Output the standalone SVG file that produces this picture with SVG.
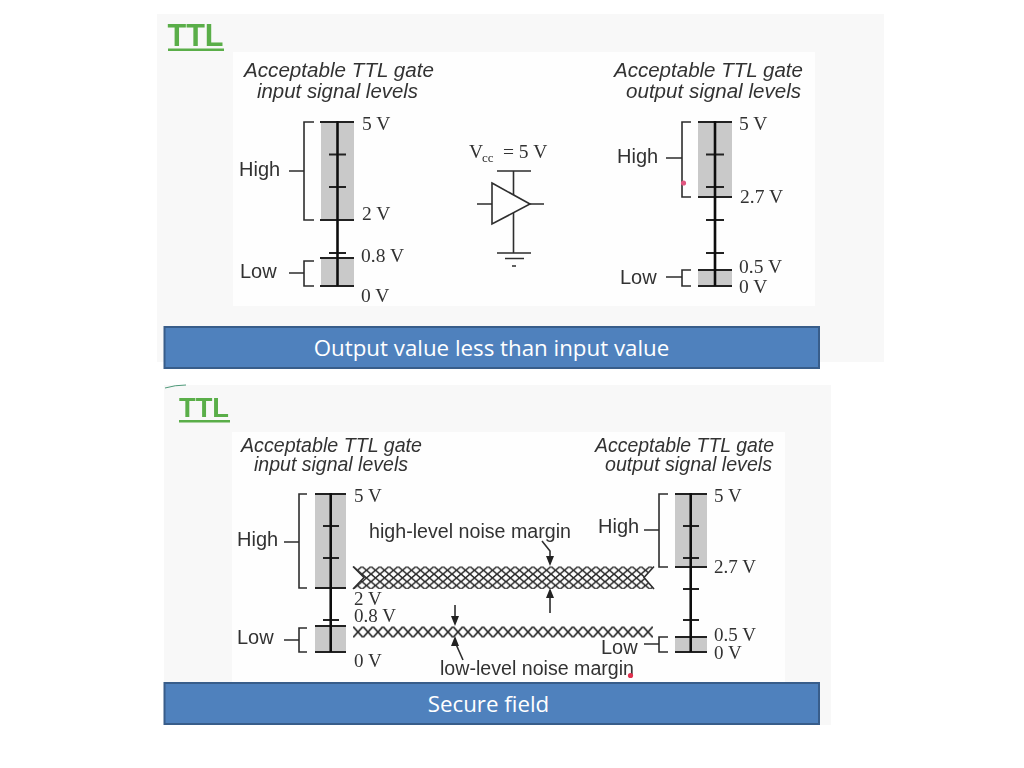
<svg xmlns="http://www.w3.org/2000/svg" width="1024" height="768" viewBox="0 0 1024 768">
<style>
.ttl{font-family:"Liberation Sans",Arial,sans-serif;font-weight:bold;fill:#5aae48}
.cap{font:italic 20px "Liberation Sans",Arial,sans-serif;fill:#333}
.lbl{font:20px "Liberation Sans",Arial,sans-serif;fill:#333}
.val{font-family:"Liberation Serif","Times New Roman",serif;font-size:19.5px;fill:#333}
.val2{font-family:"Liberation Serif","Times New Roman",serif;font-size:19px;fill:#333}
.bar{font:22.3px "Open Sans",sans-serif;fill:#fff;text-anchor:middle}
.s{fill:none;stroke:#2e2e2e;stroke-width:1.6}
.ax{fill:none;stroke:#111;stroke-width:2.6}
.t{fill:none;stroke:#222;stroke-width:2}
.g{fill:#c9c9c9}
.banner{fill:#4f81bd;stroke:#385d8a;stroke-width:2}
.ah{fill:#222}
</style>
<defs>
<filter id="soft" x="-5%" y="-5%" width="110%" height="110%"><feGaussianBlur stdDeviation="0.45"/></filter>
<pattern id="hatchHigh" width="9" height="7.600" patternUnits="userSpaceOnUse" x="353" y="566.500">
<path d="M-1,-0.844L10,8.444M-1,8.444L10,-0.844" fill="none" stroke="#2a2a2a" stroke-width="1.500"/>
</pattern>
<pattern id="hatchLow" width="10" height="11" patternUnits="userSpaceOnUse" x="353" y="626.500">
<path d="M-1,-1.100L11,12.100M-1,12.100L11,-1.100" fill="none" stroke="#2a2a2a" stroke-width="1.700"/>
</pattern>
</defs>
<rect width="1024" height="768" fill="#fff"/>
<g id="panel-top">
<rect x="157" y="14" width="727" height="348" fill="#f8f8f8"/>
<rect x="233" y="52" width="582" height="254" fill="#fefefe"/>
</g>
<g id="panel-bottom">
<rect x="164" y="385" width="667" height="340" fill="#f8f8f8"/>
<rect x="232" y="432" width="553" height="252" fill="#fefefe"/>
<path d="M165,388Q175,385 186,385" fill="none" stroke="#4f9a7a" stroke-width="1"/>
</g>
<g filter="url(#soft)">
<g id="heading-top"><text class="ttl" x="167.500" y="45.500" font-size="31" textLength="56" lengthAdjust="spacingAndGlyphs">TTL</text><rect x="168" y="48.500" width="56" height="2.500" fill="#5aae48"/></g>
<g id="heading-bottom"><text class="ttl" x="179" y="417" font-size="28" textLength="50" lengthAdjust="spacingAndGlyphs">TTL</text><rect x="179" y="420" width="51" height="2.500" fill="#5aae48"/></g>

<g id="input-top">
<text class="cap" x="244" y="77" textLength="190" lengthAdjust="spacingAndGlyphs">Acceptable TTL gate</text>
<text class="cap" x="257" y="98" textLength="161" lengthAdjust="spacingAndGlyphs">input signal levels</text>
<rect class="g" x="321" y="122" width="33" height="98"/><rect class="g" x="321" y="258" width="33" height="28"/>
<path class="t" d="M320,122H354M329,154.500H346M329,187H346M320,220H354M329,253H346M320,258H354M320,286H354"/>
<path class="ax" d="M337.500,121V286"/>
<path class="s" d="M314,122H304V220H314M289,171H304M314,261H304V286H314M289,273H304"/>
<text class="lbl" x="239" y="176">High</text><text class="lbl" x="240" y="278">Low</text>
<text class="val" x="362" y="130">5 V</text><text class="val" x="362" y="220">2 V</text><text class="val" x="361" y="262">0.8 V</text><text class="val" x="361" y="302">0 V</text>
</g>

<g id="gate">
<text class="val" x="469" y="158">V</text><text class="val" x="482" y="162" style="font-size:13px">cc</text><text class="val" x="503" y="158">= 5 V</text>
<path class="s" d="M497,171H531M513.500,171V253M497,253H531M505,258.500H524M512,266H516M477,204H492M530,204H544"/>
<path d="M492,183L530,204L492,224Z" fill="#fefefe" stroke="#2e2e2e" stroke-width="1.600"/>
</g>

<g id="output-top">
<text class="cap" x="614" y="77" textLength="189" lengthAdjust="spacingAndGlyphs">Acceptable TTL gate</text>
<text class="cap" x="626" y="98" textLength="175" lengthAdjust="spacingAndGlyphs">output signal levels</text>
<rect class="g" x="698" y="122" width="34" height="75"/><rect class="g" x="698" y="270" width="34" height="16"/>
<path class="t" d="M698,122H732M706,154.500H724M706,187H724M698,197H732M706,220H724M706,253H724M698,270H732M698,286H732"/>
<path class="ax" d="M715,121V286"/>
<path class="s" d="M691,122H682V197H691M666,158H682M691,270H682V286H691M666,277H682"/>
<text class="lbl" x="617" y="163">High</text><text class="lbl" x="620" y="284">Low</text>
<text class="val" x="739" y="130">5 V</text><text class="val" x="740" y="203">2.7 V</text><text class="val" x="739" y="273">0.5 V</text><text class="val" x="739" y="293">0 V</text>
<circle cx="683.500" cy="183" r="2.600" fill="#e0557f"/>
</g>

<g id="input-bottom">
<text class="cap" x="241" y="452" textLength="181" lengthAdjust="spacingAndGlyphs">Acceptable TTL gate</text>
<text class="cap" x="254" y="471" textLength="154" lengthAdjust="spacingAndGlyphs">input signal levels</text>
<rect class="g" x="315" y="494" width="31" height="94"/><rect class="g" x="315" y="626" width="31" height="26"/>
<path class="t" d="M315,494H346M323,526H339M323,558H339M315,588H346M323,620H339M315,626H346M315,652H346"/>
<path class="ax" d="M330.700,493V652"/>
<path class="s" d="M307,494H299V588H307M284,542H299M307,628H299V652H307M284,640H299"/>
<text class="lbl" x="237" y="546">High</text><text class="lbl" x="237" y="644">Low</text>
<text class="val2" x="354" y="502">5 V</text><text class="val2" x="354" y="605">2 V</text><text class="val2" x="354" y="622">0.8 V</text><text class="val2" x="354" y="667">0 V</text>
</g>

<g id="output-bottom">
<text class="cap" x="595" y="452" textLength="179" lengthAdjust="spacingAndGlyphs">Acceptable TTL gate</text>
<text class="cap" x="605" y="471" textLength="167" lengthAdjust="spacingAndGlyphs">output signal levels</text>
<rect class="g" x="675" y="494" width="32" height="73"/><rect class="g" x="675" y="637" width="32" height="15"/>
<path class="t" d="M675,494H707M683,526H699M683,558H699M675,567H707M683,589H699M683,620H699M675,637H707M675,652H707"/>
<path class="ax" d="M690.700,493V652"/>
<path class="s" d="M668,494H659V567H668M644,530H659M668,637H659V652H668M644,644H659"/>
<text class="lbl" x="598" y="533">High</text><text class="lbl" x="601" y="654">Low</text>
<text class="val2" x="714" y="502">5 V</text><text class="val2" x="714" y="573">2.7 V</text><text class="val2" x="714" y="641">0.5 V</text><text class="val2" x="714" y="659">0 V</text>
</g>

<g id="high-noise-margin">
<path d="M353,566.500H653L644,577.500L654,589H353L364,577.500Z" fill="url(#hatchHigh)"/>
<path class="s" d="M353,566.500L364,577.500L353,589M654,566.500L644,577.500L654,589"/>
<text class="lbl" x="369" y="538" textLength="202" lengthAdjust="spacingAndGlyphs">high-level noise margin</text>
</g>
<g id="low-noise-margin">
<path d="M353,626.500H653V637.500H353Z" fill="url(#hatchLow)"/>
<text class="lbl" x="440" y="675" textLength="194" lengthAdjust="spacingAndGlyphs">low-level noise margin</text>
<circle cx="630.500" cy="675.500" r="2.600" fill="#e0304f"/>
</g>
<g id="connectors">
<path class="s" d="M542,541L550,551V558M550,613V596M455,605V618M455,642L463,660"/>
<path class="ah" d="M546,556H554L550,566ZM546,598H554L550,588ZM451,616H459L455,626ZM451,646H459L455,636Z"/>
</g>
</g>
<g id="banner-top"><rect class="banner" x="164.500" y="327" width="654.500" height="41"/><text class="bar" x="491.500" y="356">Output value less than input value</text></g>
<g id="banner-bottom"><rect class="banner" x="164.500" y="683" width="654.500" height="41"/><text class="bar" x="488.500" y="712">Secure field</text></g>
</svg>
